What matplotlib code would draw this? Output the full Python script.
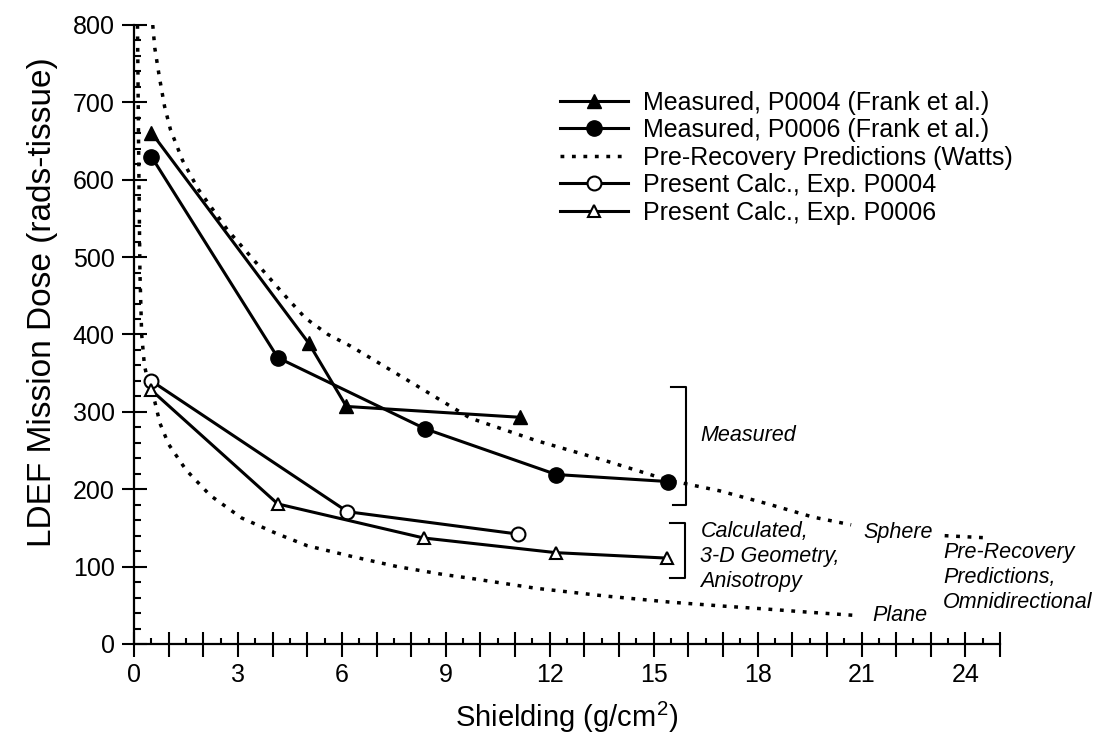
import numpy as np
import matplotlib
matplotlib.use('Agg')
import matplotlib.pyplot as plt
from matplotlib.ticker import MultipleLocator, AutoMinorLocator

plt.rcParams['font.family'] = ['Liberation Sans', 'DejaVu Sans']
plt.rcParams['mathtext.fontset'] = 'custom'
plt.rcParams['mathtext.rm'] = 'Liberation Sans'

# ---------------------------------------------------------
# Data (shielding in g/cm^2, dose in rads-tissue)
# ---------------------------------------------------------
p0004_x = [0.5, 5.04, 6.13, 11.14]
p0004_y = [661, 389, 307, 293]

p0006_x = [0.5, 4.15, 8.41, 12.19, 15.4]
p0006_y = [630, 370, 278, 219, 210]

calc_p0004_x = [0.5, 6.16, 11.09]
calc_p0004_y = [340, 171, 142]

calc_p0006_x = [0.5, 4.15, 8.36, 12.19, 15.38]
calc_p0006_y = [328, 181, 137, 118, 111]

# pre-recovery predictions (Watts), sphere and plane geometry
sphere_x = [0.54, 0.6, 0.73, 0.88, 1.05, 1.4, 1.85, 2.7, 3.5, 4.3, 4.95,
            5.6, 6.25, 7.0, 8.3, 9.7, 11.6, 13.6, 15.4, 16.9, 18.3, 19.6, 20.7]
sphere_y = [800, 770, 733, 695, 665, 625, 588, 535, 494, 453, 421,
            400, 385, 365, 330, 292, 263, 237, 212, 198, 181, 164, 154]
sphere_tail_x = [23.4, 24.7]
sphere_tail_y = [140, 137]

plane_x = [0.1, 0.13, 0.17, 0.22, 0.3, 0.4, 0.5, 0.6, 0.75, 1.0, 1.5, 2.2,
           3.1, 4.1, 5.0, 6.3, 7.6, 8.9, 9.7, 11.6, 13.6, 15.5, 17.0, 18.3,
           19.5, 20.8]
plane_y = [800, 650, 480, 400, 360, 340, 328, 313, 285, 258, 225, 192,
           163, 143, 127, 113, 100, 90, 85, 72, 62, 54, 49, 45, 41, 37]

labels = ['Measured, P0004 (Frank et al.)',
          'Measured, P0006 (Frank et al.)',
          'Pre-Recovery Predictions (Watts)',
          'Present Calc., Exp. P0004',
          'Present Calc., Exp. P0006']

x_ticks = np.arange(0, 26, 1)
x_tick_labels = [str(v) if v % 3 == 0 else '' for v in x_ticks]

# ---------------------------------------------------------
fig = plt.figure(figsize=(10.96, 7.37), dpi=100)
ax = fig.add_axes([0.1223, 0.1262, 0.7902, 0.8399])

lw = 2.2
dots = (0, (1.1, 2.2))

l1, = ax.plot(p0004_x, p0004_y, color='black', lw=lw, marker='^', ms=10,
              mfc='black', mec='black', zorder=4)
l2, = ax.plot(p0006_x, p0006_y, color='black', lw=lw, marker='o', ms=11,
              mfc='black', mec='black', zorder=4)
l3, = ax.plot(sphere_x, sphere_y, color='black', lw=2.5, ls=dots, zorder=3)
ax.plot(sphere_tail_x, sphere_tail_y, color='black', lw=2.5, ls=dots,
        zorder=3, clip_on=False)
ax.plot(plane_x, plane_y, color='black', lw=2.5, ls=dots, zorder=3)
l4, = ax.plot(calc_p0004_x, calc_p0004_y, color='black', lw=lw, marker='o',
              ms=10, mfc='white', mec='black', mew=1.5, zorder=5)
l5, = ax.plot(calc_p0006_x, calc_p0006_y, color='black', lw=lw, marker='^',
              ms=9, mfc='white', mec='black', mew=1.5, zorder=5)

# axes styling
ax.set_xlim(0, 25)
ax.set_ylim(0, 800)
ax.spines['top'].set_visible(False)
ax.spines['right'].set_visible(False)
for s in ['left', 'bottom']:
    ax.spines[s].set_linewidth(1.6)

ax.set_xticks(x_ticks)
ax.set_xticklabels(x_tick_labels)
ax.xaxis.set_minor_locator(AutoMinorLocator(2))
ax.yaxis.set_major_locator(MultipleLocator(100))
ax.yaxis.set_minor_locator(AutoMinorLocator(5))

ax.tick_params(axis='x', which='major', direction='inout', length=18,
               width=1.5, pad=5, labelsize=18)
ax.tick_params(axis='x', which='minor', direction='in', length=4.5, width=1.5)
ax.tick_params(axis='y', which='major', direction='inout', length=18,
               width=1.5, pad=5, labelsize=18)
ax.tick_params(axis='y', which='minor', direction='in', length=5, width=1.5)

ax.set_xlabel('Shielding (g/cm$^2$)', fontsize=21)
ax.xaxis.set_label_coords(0.5, -0.09)
ax.set_ylabel('LDEF Mission Dose (rads-tissue)', fontsize=24)
ax.yaxis.set_label_coords(-0.088, 0.552)

# brackets and notes
ax.plot([15.51, 15.92, 15.92, 15.55], [332, 332, 179, 179], color='black',
        lw=1.5, clip_on=False)
ax.plot([15.46, 15.89, 15.89, 15.46], [156, 156, 85, 85], color='black',
        lw=1.5, clip_on=False)

note = dict(fontsize=15.5, style='italic', ha='left', va='center',
            linespacing=1.25)
ax.text(16.35, 269, 'Measured', **note)
ax.text(16.35, 113, 'Calculated,\n3-D Geometry,\nAnisotropy', **note)
ax.text(21.06, 144, 'Sphere', **note)
ax.text(21.3, 37, 'Plane', **note)
ax.text(23.36, 86, 'Pre-Recovery\nPredictions,\nOmnidirectional', **note)

ax.legend([l1, l2, l3, l4, l5], labels, loc='upper left',
          bbox_to_anchor=(0.511, 0.877), bbox_transform=fig.transFigure,
          frameon=False, borderpad=0, borderaxespad=0, handlelength=2.7,
          handletextpad=0.6, labelspacing=0.14, fontsize=18)

fig.savefig('out.png', dpi=100, facecolor='white')
